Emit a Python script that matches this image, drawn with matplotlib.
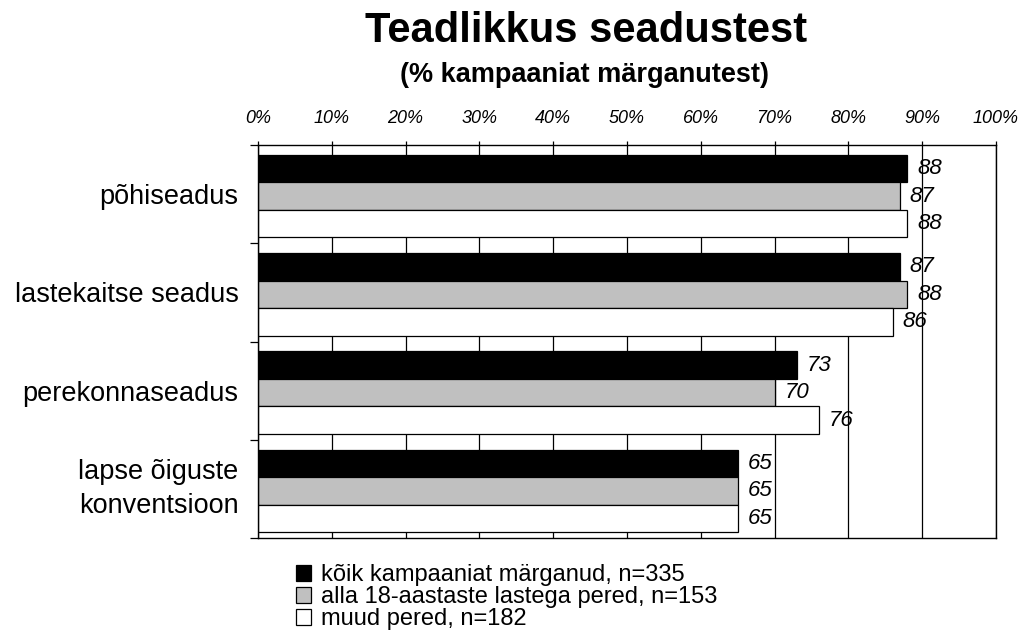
import matplotlib
matplotlib.use("Agg")
import matplotlib.pyplot as plt
import numpy as np
from matplotlib.ticker import FixedLocator, PercentFormatter

plt.rcParams['font.family'] = ['Liberation Sans', 'DejaVu Sans']

categories = ["põhiseadus", "lastekaitse seadus", "perekonnaseadus",
              "lapse õiguste\nkonventsioon"]
series_names = ["kõik kampaaniat märganud, n=335",
                "alla 18-aastaste lastega pered, n=153",
                "muud pered, n=182"]
all_noticed = [88, 87, 73, 65]
with_children = [87, 88, 70, 65]
other_families = [88, 86, 76, 65]
x_ticks = [0, 10, 20, 30, 40, 50, 60, 70, 80, 90, 100]

series = [all_noticed, with_children, other_families]
colors = ["#000000", "#c0c0c0", "#ffffff"]

fig = plt.figure(figsize=(10.23, 6.30), dpi=100)
ax = fig.add_axes([258/1023, 1-538/630, (996-258)/1023, (538-145)/630])

y = np.arange(len(categories))
h = 0.28
offsets = [-h, 0, h]
shift = 0.02
for vals, col, off, name in zip(series, colors, offsets, series_names):
    bars = ax.barh(y + off + shift, vals, height=h, color=col, edgecolor="black",
                   linewidth=0.9, label=name, zorder=2)
    for b, v in zip(bars, vals):
        ax.annotate(f"{v}", (v, b.get_y() + b.get_height()/2),
                    xytext=(7, 0), textcoords="offset points",
                    ha="left", va="center", fontsize=16, style="italic", zorder=4)

ax.set_xlim(0, 100)
ax.set_ylim(len(categories) - 0.5, -0.5)
ax.set_axisbelow(True)
ax.xaxis.set_major_locator(FixedLocator(x_ticks))
ax.xaxis.set_major_formatter(PercentFormatter(decimals=0))
ax.grid(axis="x", color="black", linewidth=0.9, zorder=0)
ax.xaxis.tick_top()
ax.tick_params(axis="x", which="major", direction="out", length=3, width=0.9,
               pad=10, labelsize=13)
for lab in ax.get_xticklabels():
    lab.set_style("italic")

ax.set_yticks(y)
ax.set_yticklabels(categories)
ax.set_yticks(np.arange(len(categories) + 1) - 0.5, minor=True)
ax.tick_params(axis="y", which="major", length=0, pad=14, labelsize=19.5)
ax.tick_params(axis="y", which="minor", length=6, width=0.9, direction="out")
for lab in ax.get_yticklabels():
    lab.set_linespacing(1.4)
    if "\n" in lab.get_text():
        lab.set_verticalalignment("center")

for s in ax.spines.values():
    s.set_linewidth(1.0)

fig.text(586/1023, 1-42/630, "Teadlikkus seadustest", ha="center", va="baseline",
         fontsize=30, fontweight="bold")
fig.text(584/1023, 1-82/630, "(% kampaaniat märganutest)", ha="center",
         va="baseline", fontsize=19.5, fontweight="bold")

handles, labels = ax.get_legend_handles_labels()
fig.legend(handles, labels, loc="upper left",
           bbox_to_anchor=(296/1023, 1-564/630), frameon=False,
           fontsize=17, handlelength=0.64, handleheight=0.64,
           handletextpad=0.42, labelspacing=0.0, borderpad=0, borderaxespad=0)

fig.savefig("out.png", dpi=100)
